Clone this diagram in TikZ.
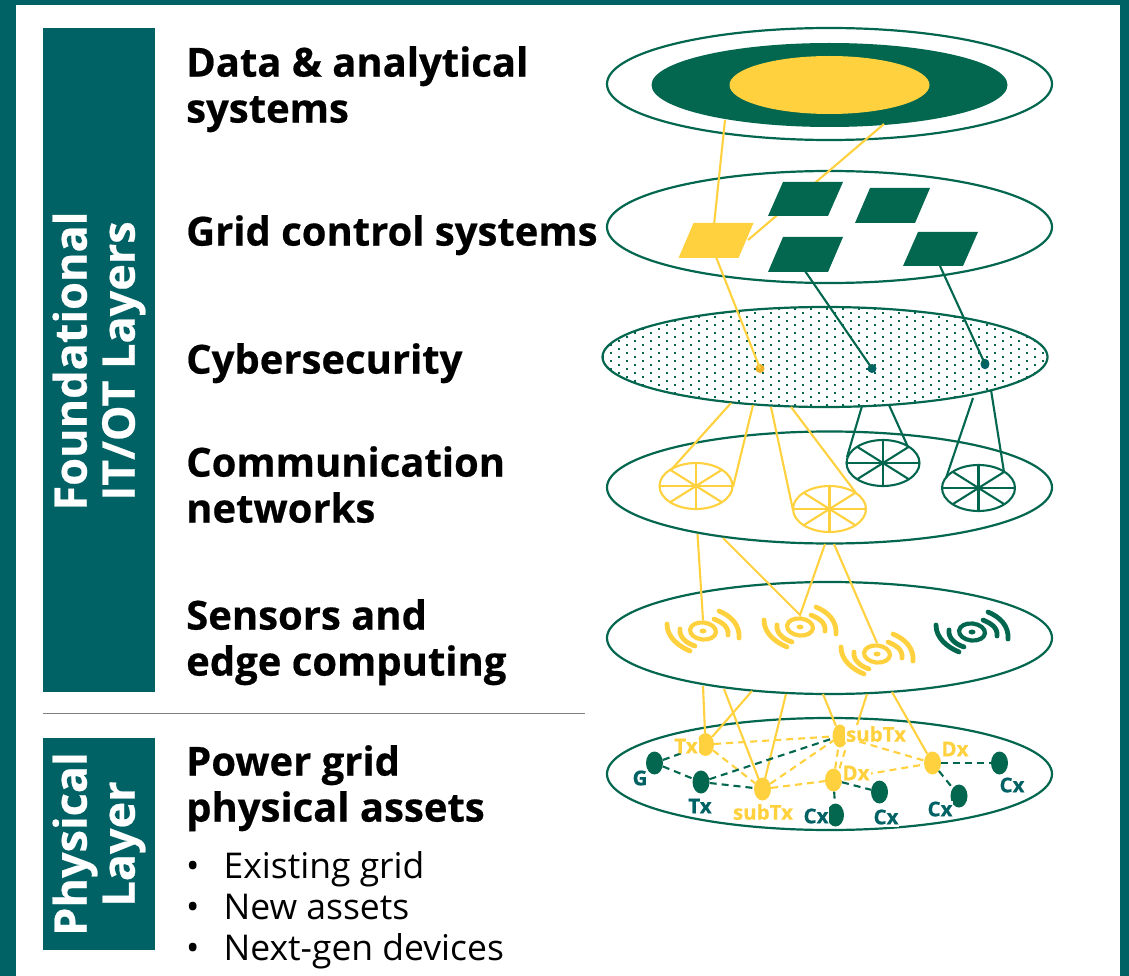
\documentclass[tikz,border=0pt]{standalone}
\usepackage{fontspec}
\setmainfont{Open Sans}[BoldFeatures={FakeBold=0.5}]
\definecolor{frameteal}{RGB}{0,98,100}
\definecolor{dkgreen}{RGB}{3,102,79}
\definecolor{gold}{RGB}{255,209,62}
\definecolor{dotgold}{RGB}{240,178,40}
\usetikzlibrary{shapes.geometric}
\tikzset{
  layer/.style={draw=dkgreen,line width=2.2pt,fill=white},
  gline/.style={draw=gold,line width=2.1pt},
  tline/.style={draw=dkgreen,line width=2.1pt},
  gdash/.style={draw=gold,line width=2.1pt,dash pattern=on 7pt off 5pt},
  tdash/.style={draw=dkgreen,line width=2.1pt,dash pattern=on 7pt off 5pt},
  heading/.style={anchor=north west,align=left,inner sep=0pt,font=\fontsize{40}{46}\selectfont\bfseries,text=black},
  sidelabel/.style={fill=frameteal,text=white,inner sep=0pt},
  sidetext/.style={rotate=90,text=white,font=\fontsize{45}{48}\selectfont\bfseries,align=center,inner sep=0pt},
  netlbl/.style={inner sep=0pt,font=\fontsize{20.5}{22}\selectfont\bfseries},
  asset/.style={ellipse,minimum width=17pt,minimum height=23pt,inner sep=0pt},
  assetg/.style={asset,fill=gold},
  assetd/.style={asset,fill=dkgreen}
}
\newcommand{\wheel}[3]{%
  \begin{scope}[shift={(#1,#2)},draw=#3,line width=2.1pt]
    \draw (0,0) ellipse (36.5pt and 23pt);
    \draw (-36.5,0) -- (36.5,0) (0,-23) -- (0,23);
    \draw (-25.5,-16) -- (25.5,16) (-25.5,16) -- (25.5,-16);
  \end{scope}}
\newcommand{\radio}[3]{%
  \begin{scope}[shift={(#1,#2)},draw=#3,line cap=round]
    \draw[line width=4.2pt,rotate=-6] (0,0) ellipse (13pt and 8.5pt);
    \fill[#3] (0,0) ellipse (3.5pt and 2.5pt);
    \draw[line width=4.8pt] (-36,-7) .. controls (-36,6) and (-25,15) .. (-13,20);
    \draw[line width=4.8pt] (16,-20) .. controls (28,-15) and (37,-6) .. (36,7);
    \draw[line width=4.8pt] (-23,-2) .. controls (-24,6) and (-17,12) .. (-8,15);
    \draw[line width=4.8pt] (11,-12) .. controls (18,-9) and (26,-5) .. (25,4);
  \end{scope}}
\begin{document}
\begin{tikzpicture}[x=1pt,y=-1pt]
\useasboundingbox (0,0) rectangle (1129,976);
\fill[frameteal] (0,0) rectangle (1129,976);
\fill[white] (16,5) rectangle (1120,976);
% side bars
\node[sidelabel,minimum width=112pt,minimum height=664pt] (found) at (99,360) {};
\node[sidetext] (foundt) at (99,361) {Foundational\\IT/OT Layers};
\node[sidelabel,minimum width=112pt,minimum height=212pt] (phys) at (99,844) {};
\node[sidetext] (physt) at (99,844) {Physical\\Layer};
\coordinate (sepa) at (43,713.5);
\coordinate (sepb) at (585,713.5);
\draw[gray,line width=1.3pt] (sepa) -- (sepb);
% headings
\node[heading] (h1) at (186,46) {Data \& analytical\\systems};
\node[heading] (h2) at (186,215) {Grid control systems};
\node[heading] (h3) at (186,343) {Cybersecurity};
\node[heading] (h4) at (186,446) {Communication\\networks};
\node[heading] (h5) at (186,599) {Sensors and\\edge computing};
\node[heading] (h6) at (186,745) {Power grid\\physical assets};
\node[anchor=north west,inner sep=0pt,align=left,font=\fontsize{35.5}{41}\selectfont] (bul) at (186,851) {•\hspace{24pt}Existing grid\\•\hspace{24pt}New assets\\•\hspace{24pt}Next-gen devices};
% layer ellipses
\draw[layer] (829.5,84) ellipse (222.5pt and 56pt);
\fill[dkgreen] (829.5,85) ellipse (178pt and 42pt);
\fill[gold] (829.5,85) ellipse (100pt and 29pt);
\draw[layer] (829.5,227) ellipse (222.5pt and 56pt);
\draw[layer] (829.5,487.5) ellipse (222.5pt and 56pt);
\draw[layer] (829.5,638) ellipse (222.5pt and 56pt);
\draw[layer] (829.5,774) ellipse (222.5pt and 56pt);
% cyber
\begin{scope}
\clip (825,357) ellipse (222.5pt and 50pt);
\fill[white] (600,300) rectangle (1050,410);
\foreach \c in {0,...,56}{
  \pgfmathsetmacro{\off}{mod(\c,2)*4}
  \foreach \r in {0,...,13}{
    \fill[dkgreen] ({603+8*\c-1.2},{308.7+\off+8*\r-1.2}) rectangle +(2.4,2.4);
  }
}
\end{scope}
\draw[draw=dkgreen,line width=2.2pt] (825,357) ellipse (222.5pt and 50pt);
% connectors top
\coordinate (a1) at (725,120);
\coordinate (a2) at (884,124);
\coordinate (b1) at (714,225);
\coordinate (b2) at (748,240);
\coordinate (bg) at (716,257);
\coordinate (bt1) at (805,271);
\coordinate (bt2) at (940,266);
\node[circle,fill=dotgold,minimum size=9pt,inner sep=0pt] (dg) at (760,368.5) {};
\node[circle,fill=frameteal,minimum size=9pt,inner sep=0pt] (dt1) at (872,368.5) {};
\node[ellipse,fill=frameteal,minimum width=9pt,minimum height=10.5pt,inner sep=0pt] (dt2) at (985,364) {};
\draw[gline] (a1) -- (b1);
\draw[gline] (a2) -- (b2);
\draw[gline] (bg) -- (dg.center);
\draw[tline] (bt1) -- (dt1.center);
\draw[tline] (bt2) -- (dt2.center);
% parallelograms
\fill[gold] (678.5,258) -- (693.5,223) -- (753.5,223) -- (738.5,258) -- cycle;
\fill[dkgreen] (768,216) -- (783,182) -- (843,182) -- (828,216) -- cycle;
\fill[dkgreen] (855,223) -- (870,188) -- (930,188) -- (915,223) -- cycle;
\fill[dkgreen] (768,272) -- (783,237) -- (843,237) -- (828,272) -- cycle;
\fill[dkgreen] (903,266) -- (918,232) -- (978,232) -- (963,266) -- cycle;
% cyber to comm
\coordinate (c1) at (731,403);
\coordinate (c2) at (753,405);
\coordinate (c3) at (771,407);
\coordinate (c4) at (791,407);
\coordinate (c5) at (862,406);
\coordinate (c6) at (889,405);
\coordinate (c7) at (973,398);
\coordinate (c8) at (991,390);
\draw[gline] (c1) -- (671,470);
\draw[gline] (c2) -- (733,487);
\draw[gline] (c3) -- (793,510);
\draw[gline] (c4) -- (856,493);
\draw[tline] (c5) -- (847,457);
\draw[tline] (c6) -- (908,447);
\draw[tline] (c7) -- (946,478);
\draw[tline] (c8) -- (1004,472);
\wheel{696}{486}{gold}
\wheel{829.5}{509}{gold}
\wheel{883}{463}{dkgreen}
\wheel{978.5}{488}{dkgreen}
% comm to sensors
\coordinate (d1) at (697.5,534);
\coordinate (d2) at (723,538);
\coordinate (d3) at (825,544);
\coordinate (d4) at (834,544);
\coordinate (d5) at (800,615);
\coordinate (d6) at (703,620);
\coordinate (d7) at (877,643);
\draw[gline] (d1) -- (d6);
\draw[gline] (d2) -- (d5) -- (d3);
\draw[gline] (d4) -- (d7);
\radio{703}{631}{gold}
\radio{800}{627}{gold}
\radio{877}{654}{gold}
\radio{972}{632}{dkgreen}
% grid nodes
\node[assetg] (gT) at (705.5,744.5) {};
\node[assetd] (dG) at (654.5,763) {};
\node[assetd] (dT) at (701,782) {};
\node[assetg] (gS) at (762.5,789) {};
\node[assetg,minimum width=15pt] (gS2) at (840,736) {};
\node[assetg] (gD) at (833.5,780) {};
\node[assetg] (gD2) at (932.5,763) {};
\node[assetd] (c1n) at (835.5,815) {};
\node[assetd] (c2n) at (879.5,792) {};
\node[assetd] (c3n) at (959,796) {};
\node[assetd] (c4n) at (999.5,763) {};
\coordinate (e1) at (703,686);
\coordinate (e2) at (724,689);
\coordinate (e3) at (752,691);
\coordinate (e4) at (786,694);
\coordinate (e5) at (823,694);
\coordinate (e6) at (867,694);
\coordinate (e7) at (892,692);
\coordinate (e8) at (857,725);
\draw[gline] (e1) -- (gT);
\draw[gline] (e3) -- (gT);
\draw[gline] (e2) -- (gS.center);
\draw[gline] (e4) -- (gS.center);
\draw[gline] (e5) -- (gS2);
\draw[gline] (e6) -- (e8);
\draw[gline] (e7) -- (gD2);
% dashed
\draw[gdash] (gT) -- (gS2);
\draw[gdash] (gT) -- (gS);
\draw[gdash] (gS) -- (gS2);
\draw[gdash] (gS) -- (gD);
\draw[gdash] (gD) -- (gS2);
\draw[gdash] ([xshift=6pt]gD.north) -- ([xshift=6pt]gS2.south);
\draw[gdash] (gD) -- (gD2);
\draw[gdash] (gS2) -- (gD2);
\draw[tdash] (dT) -- (gS);
\draw[tdash] (dG) -- (dT);
\draw[tdash] (dG) -- (gT);
\draw[tdash] (dT) -- (gS2);
\draw[tdash] (gD) -- (c2n);
\draw[tdash] (gD) -- (c1n);
\draw[tdash] (gD2) -- (c3n);
\draw[tdash] (gD2) -- (c4n);
% labels
\node[netlbl,text=gold,fill=white,inner xsep=1pt] (lT) at (686,746) {Tx};
\node[netlbl,text=gold,fill=white,inner xsep=1pt] (lS2) at (876,734) {subTx};
\node[netlbl,text=gold,fill=white,inner xsep=1pt] (lD) at (856,773) {Dx};
\node[netlbl,text=gold] (lD2) at (955,749) {Dx};
\node[netlbl,text=gold] (lS) at (763,812) {subTx};
\node[netlbl,text=frameteal] (lG) at (640,778) {G};
\node[netlbl,text=frameteal] (lTx) at (700,806) {Tx};
\node[netlbl,text=frameteal,fill=white,inner xsep=1pt,inner ysep=2pt] (lC1) at (816,816) {Cx};
\node[netlbl,text=frameteal,fill=white,inner xsep=1pt,inner ysep=2pt] (lC2) at (886,817) {Cx};
\node[netlbl,text=frameteal,fill=white,inner xsep=1pt] (lC3) at (940,809) {Cx};
\node[netlbl,text=frameteal] (lC4) at (1012,785) {Cx};
\end{tikzpicture}
\end{document}
